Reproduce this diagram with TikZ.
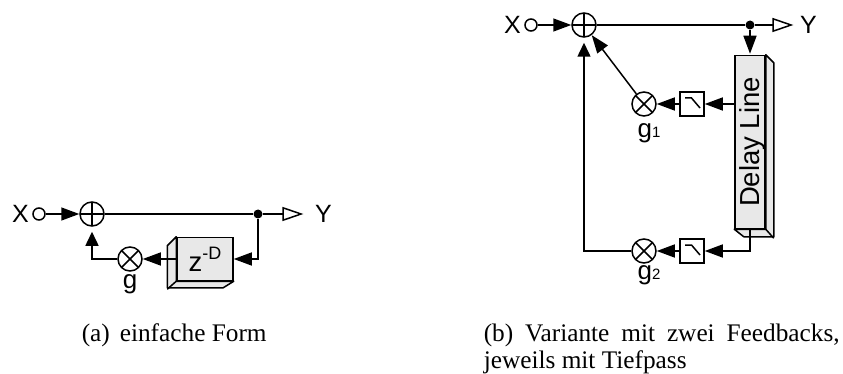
\documentclass[tikz,border=0pt]{standalone}
\usepackage{fontspec}
\setmainfont{Liberation Serif}
\setsansfont{Liberation Sans}
\usetikzlibrary{arrows.meta,positioning}
\definecolor{boxgray}{HTML}{E8E8E8}
\tikzset{
  sumnode/.style={circle,draw,minimum size=24pt,inner sep=0pt,path picture={
      \draw (path picture bounding box.north) -- (path picture bounding box.south);
      \draw (path picture bounding box.west) -- (path picture bounding box.east);}},
  multnode/.style={circle,draw,minimum size=24pt,inner sep=0pt,path picture={
      \draw (path picture bounding box.north west) -- (path picture bounding box.south east);
      \draw (path picture bounding box.north east) -- (path picture bounding box.south west);}},
  innode/.style={circle,draw,minimum size=12pt,inner sep=0pt},
  dotnode/.style={circle,fill,minimum size=9pt,inner sep=0pt},
  siglabel/.style={font=\sffamily\fontsize{25}{25}\selectfont,inner sep=0pt},
  gainlabel/.style={font=\sffamily\fontsize{26}{26}\selectfont,inner sep=0pt},
  filterbox/.style={draw,minimum size=24pt,inner sep=0pt},
  delaybox/.style={draw,fill=boxgray,inner sep=0pt,font=\sffamily\fontsize{27.5}{28}\selectfont},
  extrude/.style={draw,fill=boxgray,line join=round},
  fbtip/.style={-{Triangle[length=14pt,width=13pt]},shorten >=5pt},
  outtip/.style={-{Triangle[open,length=21pt,width=14pt]}},
  capnode/.style={font=\fontsize{25.3}{27}\selectfont,inner sep=0pt}
}
\newcommand{\lowpass}[1]{\draw (#1.center) ++(-7,6) -- ++(6.5,0) -- ++(8.5,-10);}
\begin{document}
\begin{tikzpicture}[x=1pt,y=1pt,on grid,line width=1.5pt,>={Triangle[length=18pt,width=13pt]}]
  \useasboundingbox (0,0) rectangle (843,-374);
  % einfache Form
  \node[sumnode] at (92,-214) (sumA) {};
  \node[innode,left=53pt of sumA] (inA) {};
  \node[siglabel,left=18.5pt of inA] (xA) {X};
  \node[dotnode,right=166pt of sumA] (dotA) {};
  \node[siglabel,right=65.5pt of dotA] (yA) {Y};
  \node[multnode,below right=45pt and 38pt of sumA] (multA) {};
  \node[gainlabel,below=25pt of multA] (gA) {g};
  \node[delaybox,minimum width=56pt,minimum height=43pt,right=75pt of multA] (zA)
    {z\raisebox{12pt}{\fontsize{18}{18}\selectfont-D}};
  \path[extrude] (zA.north west) -- ++(-9,-9) -- ++(0,-42) -- ++(56,0)
    -- (zA.south east) -- (zA.south west) -- cycle;
  \draw (zA.south west) -- ++(-9,-8);
  \draw[->] (inA) -- (sumA);
  \draw (sumA) -- (dotA);
  \draw[outtip,shorten >=11pt] (dotA) -- (yA);
  \draw[->] (dotA) |- (zA);
  \draw[->] (zA.west) -- (multA);
  \draw[fbtip] (multA) -| (sumA);
  % Variante mit zwei Feedbacks
  \node[sumnode] at (584,-25) (sumB) {};
  \node[innode,left=53pt of sumB] (inB) {};
  \node[siglabel,left=18.5pt of inB] (xB) {X};
  \node[dotnode,right=166pt of sumB] (dotB) {};
  \node[siglabel,right=58.5pt of dotB] (yB) {Y};
  \node[delaybox,rotate=90,minimum width=173pt,minimum height=30pt,below=117pt of dotB] (delay)
    {\smash{\raisebox{-9pt}{Delay Line}}};
  \path[extrude] (delay.south east) -- ++(8,-8) -- ++(0,-174) -- ++(-30,0)
    -- (delay.north west) -- (delay.south west) -- cycle;
  \draw (delay.south west) -- ++(8,-9);
  \node[multnode,below left=79pt and 106pt of dotB] (multB1) {};
  \node[filterbox,right=48pt of multB1] (fltB1) {};
  \lowpass{fltB1}
  \node[gainlabel,below right=29.5pt and 5pt of multB1] (gB1) {g{\fontsize{15}{15}\selectfont 1}};
  \node[multnode,below=147pt of multB1] (multB2) {};
  \node[filterbox,right=48pt of multB2] (fltB2) {};
  \lowpass{fltB2}
  \node[gainlabel,below right=24.5pt and 5pt of multB2] (gB2) {g{\fontsize{15}{15}\selectfont 2}};
  \draw[->] (inB) -- (sumB);
  \draw (sumB) -- (dotB);
  \draw[outtip,shorten >=6pt] (dotB) -- (yB);
  \draw[->,shorten >=1pt] (dotB) -- (delay.east);
  \draw[->] (fltB1 -| delay.north) -- (fltB1);
  \draw[->] (fltB1) -- (multB1);
  \draw[->] (multB1) -- (sumB);
  \draw[->] (delay.west) |- (fltB2);
  \draw[->] (fltB2) -- (multB2);
  \draw[fbtip] (multB2) -| (sumB);
  % Bildunterschriften
  \node[capnode,anchor=base west] at (81,-341) (capA) {(a)\hspace{10pt}einfache Form};
  \node[capnode,anchor=base west,text width=356pt,align=justify] at (483,-341) (capB)
    {(b) Variante mit zwei Feedbacks, jeweils mit Tiefpass};
\end{tikzpicture}
\end{document}
